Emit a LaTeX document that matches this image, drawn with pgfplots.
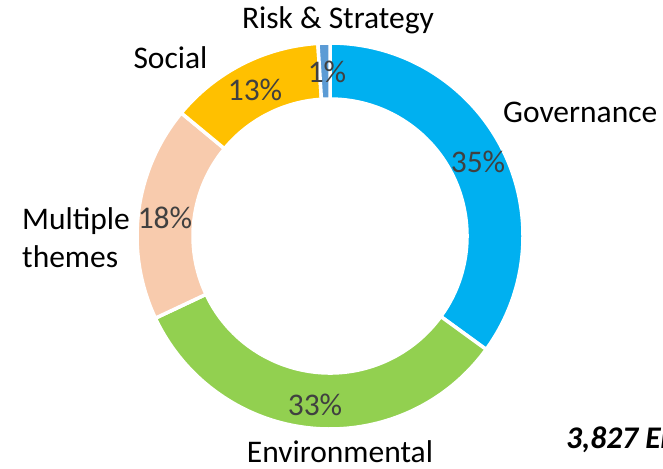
\documentclass[border=0pt]{standalone}
\usepackage{pgfplots}
\pgfplotsset{compat=1.18}
\usepackage{pgfplotstable}
\usepackage{fontspec}
\setmainfont{Carlito}
\definecolor{cGov}{HTML}{00B0F0}
\definecolor{cEnv}{HTML}{92D050}
\definecolor{cMul}{HTML}{F8CBAD}
\definecolor{cSoc}{HTML}{FFC000}
\definecolor{cRsk}{HTML}{5B9BD5}
\definecolor{cPct}{HTML}{404040}
% share (percent) and share before it (cumulative), clockwise from 12 o'clock
\pgfplotstableread{
name cum pct
Governance 0 35
Environmental 35 33
Multiple 68 18
Social 86 13
Risk 99 1
}\donutdata
\newcommand\Ro{193}
\newcommand\Ri{137}
% #1 = cumulative before, #2 = share, #3 = colour
\newcommand\slice[3]{%
  \pgfmathsetmacro\aS{90-3.6*#1}%
  \pgfmathsetmacro\aE{90-3.6*(#1+#2)}%
  \edef\temp{\noexpand\fill[#3,draw=white,line width=3.5pt,line join=miter]
    (axis cs:{\Ro*cos(\aS)},{\Ro*sin(\aS)}) arc[start angle=\aS,end angle=\aE,radius=\Ro pt]
    -- (axis cs:{\Ri*cos(\aE)},{\Ri*sin(\aE)}) arc[start angle=\aE,end angle=\aS,radius=\Ri pt] -- cycle;}%
  \temp}
\newcommand\sliceRow[2]{%
  \pgfplotstablegetelem{#1}{cum}\of\donutdata \let\c\pgfplotsretval
  \pgfplotstablegetelem{#1}{pct}\of\donutdata \let\p\pgfplotsretval
  \slice{\c}{\p}{#2}}
\begin{document}
\begin{tikzpicture}
\begin{axis}[name=ax, x=1pt, y=1pt, scale only axis,
  xmin=-330, xmax=333, ymin=-232, ymax=236,
  hide axis, clip=false]
\sliceRow{0}{cGov}
\sliceRow{1}{cEnv}
\sliceRow{2}{cMul}
\sliceRow{3}{cSoc}
\sliceRow{4}{cRsk}
\begin{scope}[every node/.style={inner sep=0pt, font=\fontsize{31.5}{38}\selectfont}]
\node[cPct] at (axis cs:-3,164) {1\%};
\node[cPct] at (axis cs:-75,146) {13\%};
\node[cPct] at (axis cs:148,74) {35\%};
\node[cPct] at (axis cs:-165,18) {18\%};
\node[cPct] at (axis cs:-15,-169) {33\%};
\node at (axis cs:8,216) {Risk \& Strategy};
\node at (axis cs:-159.5,178) {Social};
\node[anchor=west] at (axis cs:173,124) {Governance};
\node[anchor=west, align=left] at (axis cs:-308,-1.5) {Multiple\\themes};
\node at (axis cs:10,-216) {Environmental};
\node[anchor=west, font=\fontsize{31.5}{38}\selectfont\bfseries\itshape] at (axis cs:236,-204) {3,827 Engagements};
\end{scope}
\end{axis}
\pgfresetboundingbox
\path[use as bounding box] (ax.south west) rectangle (ax.north east);
\end{tikzpicture}
\end{document}
